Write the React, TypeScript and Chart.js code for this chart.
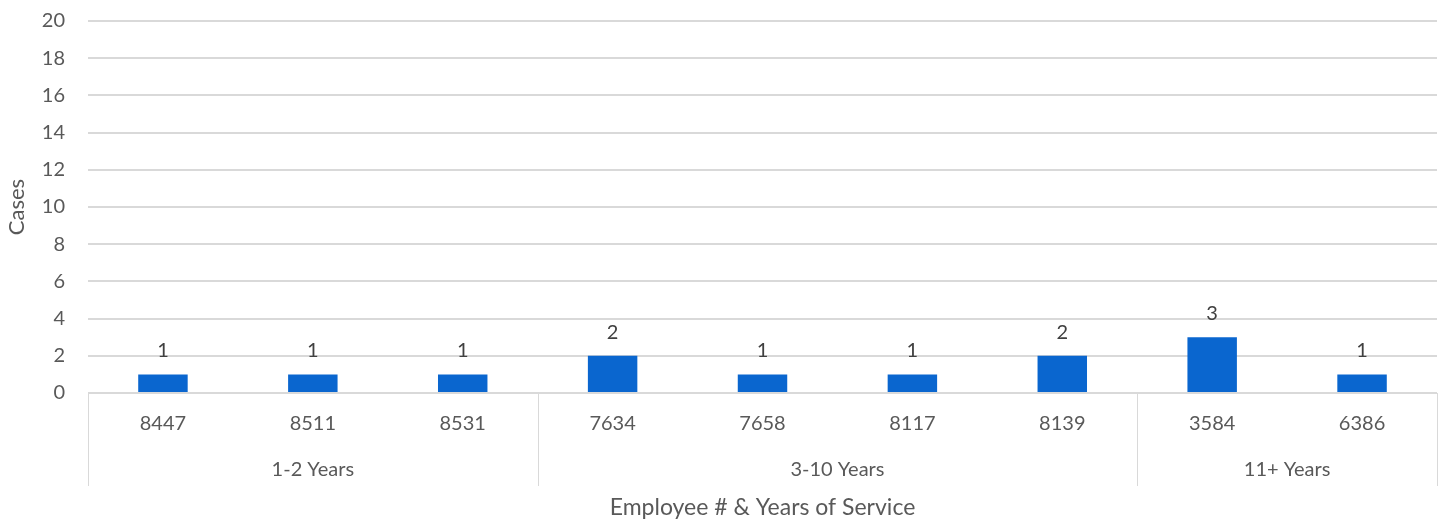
import React, { useEffect, useRef } from "react";
import { Chart, registerables } from "chart.js";

Chart.register(...registerables);

const employees = ["8447", "8511", "8531", "7634", "7658", "8117", "8139", "3584", "6386"];
const cases = [1, 1, 1, 2, 1, 1, 2, 3, 1];
const groupNames = ["1-2 Years", "3-10 Years", "11+ Years"];
const groupSizes = [3, 4, 2];
const yTicks = [0, 2, 4, 6, 8, 10, 12, 14, 16, 18, 20];

const FONT = "Lato, 'Open Sans', sans-serif";
const TEXT = "#595959";
const GRID = "#d9d9d9";

const groupPlugin = {
  id: "groupPlugin",
  afterDraw(chart: any) {
    const { ctx, chartArea } = chart;
    const xs = chart.scales.x;
    const half = (xs.getPixelForValue(1) - xs.getPixelForValue(0)) / 2;
    const bounds: number[] = [chartArea.left];
    let idx = 0;
    groupSizes.forEach((n) => {
      idx += n;
      bounds.push(idx >= employees.length ? chartArea.right : xs.getPixelForValue(idx - 1) + half);
    });
    ctx.save();
    ctx.strokeStyle = GRID;
    ctx.lineWidth = 1;
    bounds.forEach((bx) => {
      const x = Math.round(bx) + 0.5;
      ctx.beginPath();
      ctx.moveTo(x, chartArea.bottom);
      ctx.lineTo(x, chartArea.bottom + 93);
      ctx.stroke();
    });
    ctx.fillStyle = TEXT;
    ctx.font = `20px ${FONT}`;
    ctx.textAlign = "center";
    ctx.textBaseline = "middle";
    groupNames.forEach((g, i) => {
      ctx.fillText(g, (bounds[i] + bounds[i + 1]) / 2, chartArea.bottom + 77);
    });
    // data labels
    const meta = chart.getDatasetMeta(0);
    ctx.fillStyle = "#404040";
    ctx.textBaseline = "alphabetic";
    meta.data.forEach((bar: any, i: number) => {
      ctx.fillText(String(cases[i]), bar.x, bar.y - 17);
    });
    ctx.restore();
  },
};

export default function App() {
  const ref = useRef<HTMLCanvasElement>(null);
  useEffect(() => {
    document.body.style.margin = "0";
    const chart = new Chart(ref.current!, {
      type: "bar",
      data: {
        labels: employees,
        datasets: [
          {
            data: cases,
            backgroundColor: "#0A66CF",
            borderWidth: 0,
            categoryPercentage: 1,
            barPercentage: 0.33,
          },
        ],
      },
      plugins: [groupPlugin],
      options: {
        animation: false,
        responsive: false,
        devicePixelRatio: 1,
        layout: { padding: { top: 21, right: 9, bottom: 0, left: 0 } },
        plugins: { legend: { display: false }, tooltip: { enabled: false } },
        scales: {
          x: {
            grid: { display: false, drawTicks: false },
            border: { display: false },
            ticks: { color: TEXT, font: { family: FONT, size: 20 }, padding: 19, maxRotation: 0 },
            title: {
              display: true,
              text: "Employee # & Years of Service",
              color: TEXT,
              font: { family: FONT, size: 23 },
              padding: { top: 0, bottom: 1 },
            },
            afterFit(scale: any) {
              scale.height = 129;
            },
          },
          y: {
            min: 0,
            max: 20,
            afterBuildTicks(scale: any) {
              scale.ticks = yTicks.map((v) => ({ value: v }));
            },
            grid: { color: GRID, lineWidth: 2, drawTicks: false },
            border: { display: false },
            ticks: { color: TEXT, font: { family: FONT, size: 20 }, padding: 23 },
            title: {
              display: true,
              text: "Cases",
              color: TEXT,
              font: { family: FONT, size: 22 },
              padding: { top: 4, bottom: 0 },
            },
            afterFit(scale: any) {
              scale.width = 88;
              scale.paddingTop = 0;
              scale.paddingBottom = 0;
            },
          },
        },
      },
    });
    return () => chart.destroy();
  }, []);
  return (
    <div style={{ width: 1446, height: 522 }}>
      <canvas ref={ref} width={1446} height={522} style={{ display: "block" }} />
    </div>
  );
}
